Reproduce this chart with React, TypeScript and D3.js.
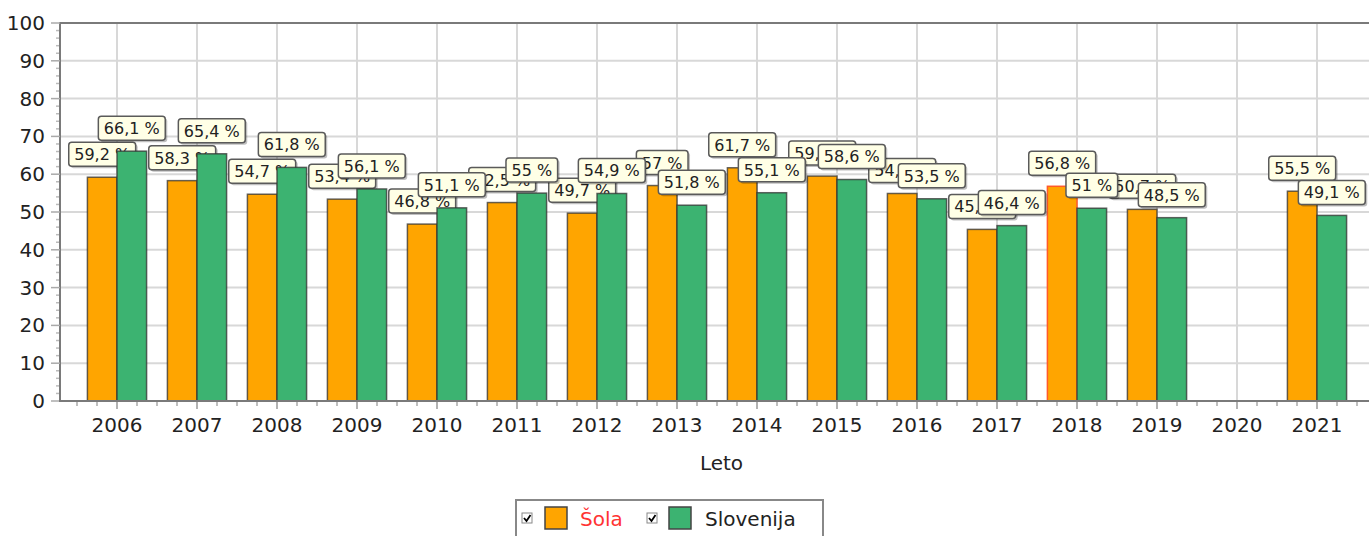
import React from 'react'
import * as d3 from 'd3'

const years = [2006, 2007, 2008, 2009, 2010, 2011, 2012, 2013, 2014, 2015, 2016, 2017, 2018, 2019, 2020, 2021]
// null = ni podatka
const sola = [59.2, 58.3, 54.7, 53.4, 46.8, 52.5, 49.7, 57, 61.7, 59.5, 54.9, 45.4, 56.8, 50.7, null, 55.5]
const slovenija = [66.1, 65.4, 61.8, 56.1, 51.1, 55, 54.9, 51.8, 55.1, 58.6, 53.5, 46.4, 51, 48.5, null, 49.1]
const yTicks = [0, 10, 20, 30, 40, 50, 60, 70, 80, 90, 100]

const W = 1369
const H = 536
const margin = { top: 23, right: 0, bottom: 135, left: 60 }
const FONT = '"DejaVu Sans", Verdana, sans-serif'

const fmt = (v: number) => String(v).replace('.', ',') + ' %'

// rough text width for DejaVu Sans
const textWidth = (s: string, size: number) => {
  let w = 0
  for (const c of s) {
    if (c === ',' || c === ' ') w += 0.318
    else if (c === '%') w += 0.95
    else w += 0.636
  }
  return w * size
}

const Label = ({ cx, topY, value }: { cx: number; topY: number; value: number }) => {
  const txt = fmt(value)
  const w = textWidth(txt, 16) + 11
  const h = 24
  const x0 = cx - w / 2
  const y0 = topY - 11 - h
  return (
    <g>
      <rect x={x0 + 2} y={y0 + 2} width={w} height={h} rx={3} fill="#000" opacity={0.25} />
      <rect x={x0} y={y0} width={w} height={h} rx={3} fill="#FFFFE6" stroke="#5a5a5a" strokeWidth={1.5} />
      <text x={cx} y={y0 + 18} textAnchor="middle" fontSize={16} fontFamily={FONT} fill="#222">{txt}</text>
    </g>
  )
}

const App = () => {
  const innerBottom = H - margin.bottom + 0
  const x = d3.scaleLinear().domain([2005.2875, 2021.65]).range([margin.left, W - margin.right])
  const y = d3.scaleLinear().domain([0, 100]).range([401, margin.top])
  const bw = 0.37

  const minorX = d3.range(2005.5, 2021.6, 0.25).filter(v => Math.abs(v - Math.round(v)) > 0.01)
  const minorY = d3.range(0, 100, 2).filter(v => v % 10 !== 0)

  const series = [
    { vals: sola, color: '#FFA500', off: -bw },
    { vals: slovenija, color: '#3CB371', off: 0 },
  ]

  return (
    <svg width={W} height={H} style={{ position: 'absolute', left: 0, top: 0 }} fontFamily={FONT}>
      <rect x={0} y={0} width={W} height={H} fill="#fff" />
      {/* grid */}
      {yTicks.slice(1, -1).map(t => (
        <line key={'gy' + t} x1={margin.left} x2={W} y1={y(t)} y2={y(t)} stroke="#d8d8d8" strokeWidth={2} />
      ))}
      {years.map(yr => (
        <line key={'gx' + yr} x1={x(yr)} x2={x(yr)} y1={margin.top} y2={y(0)} stroke="#d8d8d8" strokeWidth={2} />
      ))}
      {/* frame top */}
      <line x1={margin.left} x2={W} y1={margin.top} y2={margin.top} stroke="#7a7a7a" strokeWidth={2} />

      {series.map((s, si) => (
        <g key={si}>
          {years.map((yr, i) => {
            const v = s.vals[i]
            if (v == null) return null
            const x0 = x(yr + s.off)
            const x1 = x(yr + s.off + bw)
            const hl = si === 0 && yr === 2018
            return (
              <rect key={yr} x={x0} y={y(v)} width={x1 - x0} height={y(0) - y(v)}
                fill={s.color} stroke={hl ? '#FF5A2A' : '#333'} strokeOpacity={hl ? 1 : 0.75} strokeWidth={1.5} />
            )
          })}
          {years.map((yr, i) => {
            const v = s.vals[i]
            if (v == null) return null
            const cx = x(yr + s.off + bw / 2)
            return <Label key={'l' + yr} cx={cx} topY={y(v)} value={v} />
          })}
        </g>
      ))}

      {/* y axis */}
      <line x1={margin.left} x2={margin.left} y1={margin.top - 1} y2={y(0) + 1} stroke="#7a7a7a" strokeWidth={2} />
      {minorY.map(t => (
        <line key={'my' + t} x1={margin.left - 4} x2={margin.left - 1} y1={y(t)} y2={y(t)} stroke="#bbb" strokeWidth={1.5} />
      ))}
      {yTicks.map(t => (
        <g key={'ty' + t}>
          <line x1={margin.left - 9} x2={margin.left} y1={y(t)} y2={y(t)} stroke="#aaa" strokeWidth={1.5} />
          <text x={45} y={y(t) + 7} textAnchor="end" fontSize={20} fill="#222">{t}</text>
        </g>
      ))}

      {/* x axis */}
      <line x1={margin.left - 1} x2={W} y1={y(0)} y2={y(0)} stroke="#7a7a7a" strokeWidth={2} />
      {minorX.map(t => (
        <line key={'mx' + t} x1={x(t)} x2={x(t)} y1={y(0) + 1} y2={y(0) + 5} stroke="#aaa" strokeWidth={1.5} />
      ))}
      {years.map(yr => (
        <g key={'tx' + yr}>
          <line x1={x(yr)} x2={x(yr)} y1={y(0) + 1} y2={y(0) + 8} stroke="#999" strokeWidth={1.5} />
          <text x={x(yr)} y={432} textAnchor="middle" fontSize={20} fill="#222">{yr}</text>
        </g>
      ))}
      <text x={(margin.left + W) / 2 + 7} y={470} textAnchor="middle" fontSize={20} fill="#222">Leto</text>

      {/* legend */}
      <g>
        <rect x={516} y={500} width={307} height={50} fill="#fff" stroke="#888" strokeWidth={2} />
        {[
          { name: 'Šola', color: '#FFA500', textColor: '#FF3333', cb: 522, sq: 545, tx: 580 },
          { name: 'Slovenija', color: '#3CB371', textColor: '#222', cb: 647, sq: 669, tx: 705 },
        ].map(l => (
          <g key={l.name}>
            <rect x={l.cb} y={513} width={10} height={10} fill="#fff" stroke="#888" strokeWidth={1} />
            <path d={`M${l.cb + 2},${518} L${l.cb + 4.5},${521} L${l.cb + 8.5},${515}`} fill="none" stroke="#000" strokeWidth={1.8} />
            <rect x={l.sq} y={507} width={22} height={22} fill={l.color} stroke="#444" strokeWidth={1.5} />
            <text x={l.tx} y={526} fontSize={20} fill={l.textColor}>{l.name}</text>
          </g>
        ))}
      </g>
    </svg>
  )
}

export default App
